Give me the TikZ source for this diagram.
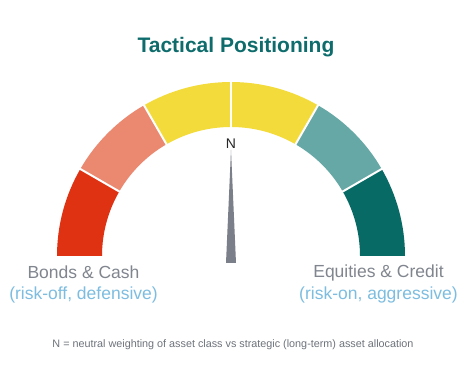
\documentclass[tikz,border=0pt]{standalone}
\usepackage{fontspec}
\setmainfont{Liberation Sans}
\definecolor{cRed}{HTML}{DE3213}
\definecolor{cSalmon}{HTML}{EB8870}
\definecolor{cYellow}{HTML}{F3DB3B}
\definecolor{cTealL}{HTML}{65A8A5}
\definecolor{cTealD}{HTML}{076A65}
\definecolor{cTitle}{HTML}{0E6D6C}
\definecolor{cGrey}{HTML}{80858E}
\definecolor{cBlue}{HTML}{7DBDE0}
\definecolor{cNeedle}{HTML}{7A7F89}
\definecolor{cFoot}{HTML}{6E737B}
\begin{document}
\begin{tikzpicture}[x=1pt,y=1pt,
  seg/.style={fill=#1},
  sep/.style={draw=white,line width=2pt},
  lbl/.style={font=\fontsize{17.5}{20}\selectfont,text=cGrey,inner sep=0pt},
  sub/.style={font=\fontsize{17.5}{20}\selectfont,text=cBlue,inner sep=0pt}]
\useasboundingbox (0,0) rectangle (471,367);
\fill[white] (0,0) rectangle (471,367);
\coordinate (c) at (231,111);
\def\Ro{174}\def\Ri{129}
\foreach \a/\col in {180/cRed,150/cSalmon,120/cYellow,90/cYellow,60/cTealL,30/cTealD}{
  \pgfmathsetmacro\b{\a-30}
  \fill[seg=\col] ([shift={(\a:\Ro)}]c) arc (\a:\b:\Ro) -- ([shift={(\b:\Ri)}]c) arc (\b:\a:\Ri) -- cycle;
}
\foreach \a in {30,60,90,120,150}{
  \draw[sep] ([shift={(\a:\Ri-3)}]c) -- ([shift={(\a:\Ro+3)}]c);
}
\coordinate (nl) at (226,104);
\coordinate (nr) at (236,104);
\coordinate (nt) at (231,217);
\fill[cNeedle] (nl) -- (nr) -- (nt) -- cycle;
\node[font=\fontsize{14}{16}\selectfont,text=black!85,inner sep=0pt] (N) at (231,223.7) {N};
\node[font=\bfseries\fontsize{21}{24}\selectfont,text=cTitle,inner sep=0pt] (title) at (236,320) {Tactical Positioning};
\node[lbl] (bonds) at (83.5,94.5) {Bonds \& Cash};
\node[sub] (bondsub) at (83.5,72) {(risk-off, defensive)};
\node[lbl] (eq) at (378.5,94.5) {Equities \& Credit};
\node[sub] (eqsub) at (378.5,72) {(risk-on, aggressive)};
\node[font=\fontsize{10.8}{12}\selectfont,text=cFoot,inner sep=0pt] (foot) at (233,22) {N = neutral weighting of asset class vs strategic (long-term) asset allocation};
\end{tikzpicture}
\end{document}
